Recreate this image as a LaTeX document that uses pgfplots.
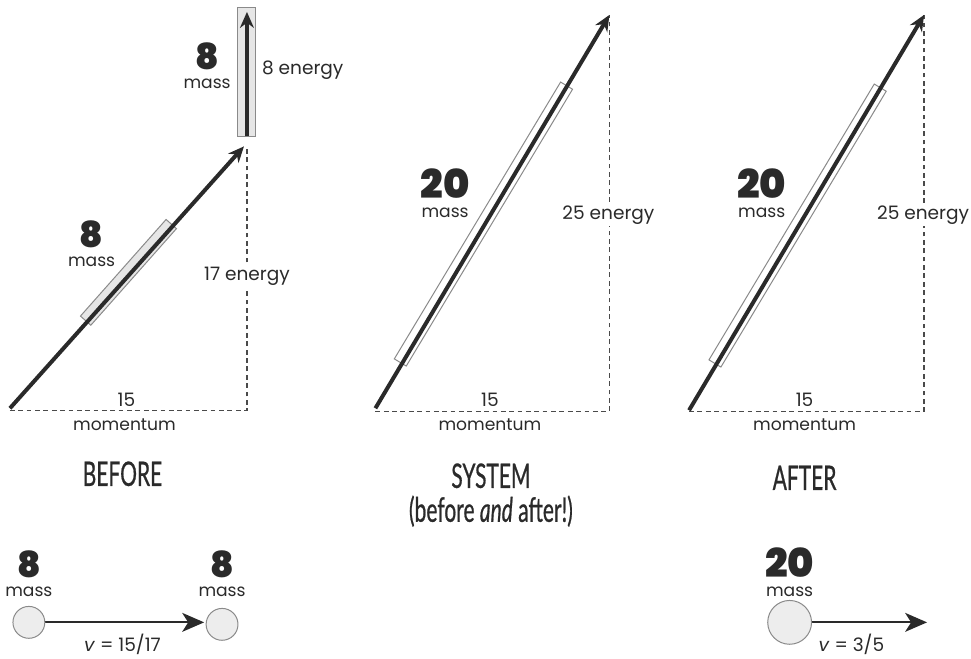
\documentclass[border=0pt]{standalone}
\usepackage{fontspec}
\setmainfont{Poppins}
\newfontfamily\heavy{Poppins Black}
\newfontfamily\cond{Lato}[FakeStretch=0.62, FakeBold=0.6]
\usepackage{pgfplots}
\pgfplotsset{compat=1.18}
\usetikzlibrary{arrows.meta}
\definecolor{ink}{HTML}{2A2A2A}
\definecolor{boxg}{HTML}{E6E6E6}
\definecolor{edge}{HTML}{8A8A8A}
\newcommand{\massA}[1]{\shortstack{{\heavy\fontsize{18}{18}\selectfont #1}\\[1.5pt]{\fontsize{8.6}{10}\selectfont mass}}}
\newcommand{\massB}[1]{\shortstack{{\heavy\fontsize{20}{20}\selectfont #1}\\[1.5pt]{\fontsize{8.6}{10}\selectfont mass}}}
\tikzset{
  lab/.style={font=\fontsize{9.3}{10}\selectfont, text=ink, anchor=base, inner sep=0pt},
  sm/.style={font=\fontsize{8.6}{10}\selectfont, text=ink, anchor=base, inner sep=0pt},
  mm/.style={text=ink, anchor=base, inner sep=0pt},
  ttl/.style={font=\cond\fontsize{17}{17}\selectfont, text=ink, anchor=base, inner sep=0pt},
}
\begin{document}
\begin{tikzpicture}
\begin{axis}[x=0.5pt, y=0.5pt, y dir=reverse, xmin=0, xmax=971, ymin=0, ymax=661,
  hide axis, clip=false, scale only axis]
% extent
\addplot[draw=none] coordinates {(0,0) (971,661)};
% ---------- BEFORE ----------
\addplot[ink!85, line width=0.6pt, dash pattern=on 2.4pt off 1.8pt] coordinates {(10,412) (248,412) (248,147)};
\addplot[draw=edge, fill=boxg, line width=0.5pt] coordinates {(80.8,317.4) (91.2,326.6) (177.2,229.6) (166.8,220.4)} -- cycle;
\addplot[ink, line width=2pt, -{Stealth[length=8pt,width=7pt]}] coordinates {(10,410) (245,147)};
\addplot[draw=edge, fill=boxg, line width=0.5pt] coordinates {(239,8) (257,8) (257,137) (239,137)} -- cycle;
\addplot[ink, line width=2pt, -{Stealth[length=8pt,width=7pt]}] coordinates {(248,137) (248,12)};
\node[mm] at (axis cs:208,89) {\massA{8}};
\node[lab] at (axis cs:304,75) {8 energy};
\node[mm] at (axis cs:92,268) {\massA{8}};
\node[lab, fill=white, inner sep=1pt] at (axis cs:248,282) {17 energy};
\node[lab] at (axis cs:127,408) {15};
\node[sm] at (axis cs:125,432) {momentum};
% ---------- SYSTEM ----------
\addplot[ink!85, line width=0.6pt, dash pattern=on 2.4pt off 1.8pt] coordinates {(377,413) (612,413) (612,15)};
\addplot[draw=edge, fill=white, line width=0.5pt] coordinates {(396,360.4) (408,367.6) (575,89.6) (563,82.4)} -- cycle;
\addplot[ink, line width=2pt, -{Stealth[length=8pt,width=7pt]}] coordinates {(377,410) (612,15)};
\node[mm] at (axis cs:447,218) {\massB{20}};
\node[lab, fill=white, inner sep=1pt] at (axis cs:611,220) {25 energy};
\node[lab] at (axis cs:492,408) {15};
\node[sm] at (axis cs:492,432) {momentum};
% ---------- AFTER ----------
\addplot[ink!85, line width=0.6pt, dash pattern=on 2.4pt off 1.8pt] coordinates {(692,413) (928,413) (928,15)};
\addplot[draw=edge, fill=white, line width=0.5pt] coordinates {(712,361.4) (724,368.6) (890,91.6) (878,84.4)} -- cycle;
\addplot[ink, line width=2pt, -{Stealth[length=8pt,width=7pt]}] coordinates {(692,412) (928,15)};
\node[mm] at (axis cs:765,218) {\massB{20}};
\node[lab, fill=white, inner sep=1pt] at (axis cs:927,220) {25 energy};
\node[lab] at (axis cs:808,408) {15};
\node[sm] at (axis cs:808,432) {momentum};
% ---------- titles ----------
\node[ttl] at (axis cs:123,488) {BEFORE};
\node[ttl] at (axis cs:493,490) {SYSTEM};
\node[ttl] at (axis cs:493,524) {(before \textit{and} after!)};
\node[ttl] at (axis cs:808,492) {AFTER};
% ---------- bottom row ----------
\addplot[ink, line width=1pt, -{Stealth[length=11pt,width=9.5pt,inset=3pt]}] coordinates {(45,625) (205,625)};
\addplot[only marks, mark=*, mark size=8pt, mark options={fill=boxg!70, draw=edge, line width=0.5pt}] coordinates {(29,625) (223,627)};
\addplot[ink, line width=1pt, -{Stealth[length=11pt,width=9.5pt,inset=3pt]}] coordinates {(815,625) (931,625)};
\addplot[only marks, mark=*, mark size=11pt, mark options={fill=boxg!70, draw=edge, line width=0.5pt}] coordinates {(793,625)};
\node[mm] at (axis cs:29,599) {\massA{8}};
\node[mm] at (axis cs:223,599) {\massA{8}};
\node[mm] at (axis cs:793,599) {\massB{20}};
\node[lab] at (axis cs:123,654) {\textit{v} = 15/17};
\node[lab] at (axis cs:855,654) {\textit{v} = 3/5};
\end{axis}
\end{tikzpicture}
\end{document}
